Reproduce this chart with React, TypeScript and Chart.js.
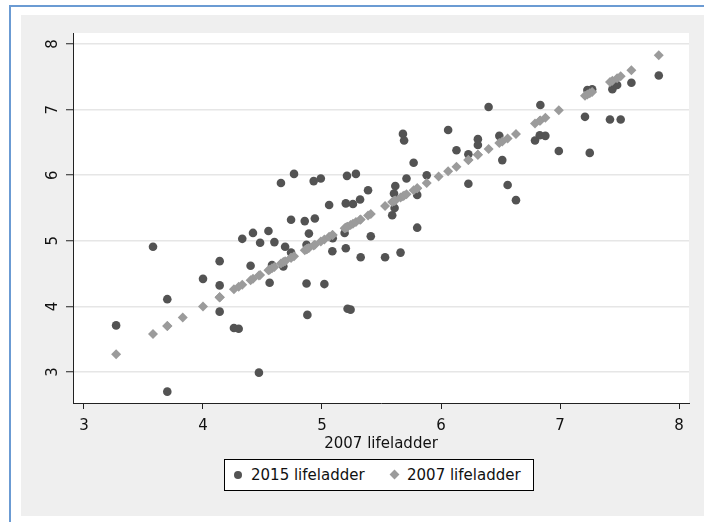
import React, { useEffect, useRef } from "react";
import { Chart, registerables } from "chart.js";

Chart.register(...registerables);

// 2007 life ladder (x) per country
const ladder2007: number[] = [
  3.27, 3.58, 3.7, 3.7, 3.83, 4.0, 4.14, 4.14, 4.14, 4.26, 4.3, 4.33, 4.4, 4.42, 4.47, 4.48,
  4.55, 4.56, 4.58, 4.6, 4.655, 4.675, 4.69, 4.74, 4.74, 4.765, 4.855, 4.87, 4.87, 4.877, 4.89,
  4.93, 4.94, 4.99, 5.02, 5.06, 5.087, 5.09, 5.19, 5.2, 5.2, 5.21, 5.215, 5.24, 5.26, 5.285,
  5.32, 5.325, 5.387, 5.41, 5.53, 5.59, 5.605, 5.61, 5.616, 5.66, 5.68, 5.69, 5.71, 5.77, 5.8,
  5.8, 5.88, 5.98, 6.06, 6.13, 6.23, 6.23, 6.31, 6.31, 6.4, 6.49, 6.515, 6.56, 6.63, 6.79, 6.83,
  6.835, 6.877, 6.99, 7.21, 7.23, 7.25, 7.27, 7.42, 7.44, 7.48, 7.51, 7.6, 7.83,
];

// 2015 life ladder (y) for the same countries (null = not shown)
const ladder2015: (number | null)[] = [
  3.71, 4.91, 4.11, 2.7, null, 4.42, 4.69, 4.32, 3.92, 3.67, 3.66, 5.03, 4.62, 5.12, 2.99, 4.97,
  5.15, 4.36, 4.63, 4.98, 5.88, 4.61, 4.91, 5.32, 4.82, 6.02, 5.3, 4.35, 4.94, 3.87, 5.11,
  5.91, 5.34, 5.95, 4.34, 5.545, 4.84, 5.04, 5.12, 5.57, 4.886, 5.99, 3.965, 3.95, 5.56, 6.02,
  5.63, 4.75, 5.77, 5.07, 4.75, 5.39, 5.72, 5.5, 5.835, 4.82, 6.63, 6.53, 5.95, 6.19, 5.7,
  5.2, 6.0, null, 6.69, 6.38, 6.32, 5.87, 6.55, 6.46, 7.04, 6.6, 6.23, 5.85, 5.62, 6.53, 6.61,
  7.07, 6.6, 6.37, 6.89, 7.3, 6.34, 7.31, 6.85, 7.31, 7.375, 6.85, 7.41, 7.52,
];

const xTickValues = [3, 4, 5, 6, 7, 8];
const yTickValues = [3, 4, 5, 6, 7, 8];
const xAxisTitle = "2007 lifeladder";
const label2015 = "2015 lifeladder";
const label2007 = "2007 lifeladder";

const FONT = "'DejaVu Sans', sans-serif";
const DARK = "#535353";
const LIGHT = "#9b9b9b";
const TEXT = "#111111";

export default function App() {
  const ref = useRef<HTMLCanvasElement>(null);

  useEffect(() => {
    const pts2015 = ladder2007
      .map((x, i) => (ladder2015[i] == null ? null : { x, y: ladder2015[i] as number }))
      .filter((p) => p !== null) as { x: number; y: number }[];
    const pts2007 = ladder2007.map((x) => ({ x, y: x }));

    const plotBg = {
      id: "plotBg",
      beforeDraw(chart: any) {
        const { ctx, chartArea: a } = chart;
        ctx.save();
        ctx.fillStyle = "#ffffff";
        ctx.fillRect(a.left, a.top, a.right - a.left, a.bottom - a.top);
        ctx.restore();
      },
    };

    const yLabels = {
      id: "yLabels",
      afterDraw(chart: any) {
        const { ctx } = chart;
        const s = chart.scales.y;
        ctx.save();
        ctx.font = `15px ${FONT}`;
        ctx.fillStyle = TEXT;
        ctx.textAlign = "center";
        ctx.textBaseline = "alphabetic";
        for (const v of yTickValues) {
          const py = s.getPixelForValue(v);
          ctx.save();
          ctx.translate(36, py);
          ctx.rotate(-Math.PI / 2);
          ctx.fillText(String(v), 0, 0);
          ctx.restore();
        }
        ctx.restore();
      },
    };

    const chart = new Chart(ref.current as HTMLCanvasElement, {
      type: "scatter",
      data: {
        datasets: [
          {
            label: label2015,
            data: pts2015,
            pointStyle: "circle",
            pointRadius: 4.3,
            backgroundColor: DARK,
            borderWidth: 0,
            order: 1,
          },
          {
            label: label2007,
            data: pts2007,
            pointStyle: "rectRot",
            pointRadius: 5,
            backgroundColor: LIGHT,
            borderWidth: 0,
            order: 0,
          },
        ],
      },
      options: {
        animation: false,
        responsive: false,
        events: [],
        layout: { padding: { left: 0, right: 15, top: 18, bottom: 63 } },
        plugins: { legend: { display: false }, tooltip: { enabled: false } },
        scales: {
          x: {
            type: "linear",
            min: 2.9076,
            max: 8.084,
            afterBuildTicks: (s: any) => {
              s.ticks = xTickValues.map((v) => ({ value: v }));
            },
            afterFit: (s: any) => {
              s.height = 50;
            },
            grid: {
              drawOnChartArea: false,
              drawTicks: true,
              tickLength: 6,
              tickColor: "#222",
              tickWidth: 1,
            },
            border: { display: true, color: "#222", width: 1 },
            ticks: {
              font: { family: FONT, size: 15 },
              color: TEXT,
              padding: 8,
              maxRotation: 0,
              autoSkip: false,
            },
            title: {
              display: true,
              text: xAxisTitle,
              font: { family: FONT, size: 15 },
              color: TEXT,
              padding: { top: 0, bottom: 0 },
            },
          },
          y: {
            type: "linear",
            min: 2.527,
            max: 8.168,
            afterBuildTicks: (s: any) => {
              s.ticks = yTickValues.map((v) => ({ value: v }));
            },
            afterFit: (s: any) => {
              s.width = 52;
            },
            grid: {
              color: "#e6e6e6",
              lineWidth: 1.5,
              drawTicks: true,
              tickLength: 7,
              tickColor: "#222",
              tickWidth: 1,
            },
            border: { display: true, color: "#222", width: 1 },
            ticks: { display: false },
          },
        },
      } as any,
      plugins: [plotBg, yLabels],
    });
    return () => chart.destroy();
  }, []);

  const legendText: React.CSSProperties = {
    position: "absolute",
    top: 0,
    lineHeight: "30px",
    fontFamily: FONT,
    fontSize: 15,
    color: TEXT,
    whiteSpace: "nowrap",
  };

  return (
    <div
      style={{
        position: "fixed",
        left: 0,
        top: 0,
        width: 704,
        height: 522,
        overflow: "hidden",
        background: "#ffffff",
      }}
    >
      <div
        style={{
          position: "absolute",
          left: 9,
          top: 5,
          width: 800,
          height: 600,
          borderTop: "2px solid #6b9bd3",
          borderLeft: "2px solid #6b9bd3",
        }}
      />
      <div
        style={{
          position: "absolute",
          left: 21,
          top: 15,
          width: 683,
          height: 501,
          background: "#efefef",
        }}
      >
        <canvas ref={ref} width={683} height={501} style={{ display: "block" }} />
      </div>
      <div
        style={{
          position: "absolute",
          left: 224,
          top: 459,
          width: 310,
          height: 32,
          boxSizing: "border-box",
          border: "1px solid #000",
          background: "#fff",
        }}
      >
        <div
          style={{
            position: "absolute",
            left: 9,
            top: 11,
            width: 8,
            height: 8,
            borderRadius: "50%",
            background: DARK,
          }}
        />
        <div style={{ ...legendText, left: 26 }}>{label2015}</div>
        <div
          style={{
            position: "absolute",
            left: 166,
            top: 11,
            width: 7,
            height: 7,
            transform: "rotate(45deg)",
            background: LIGHT,
          }}
        />
        <div style={{ ...legendText, left: 182 }}>{label2007}</div>
      </div>
    </div>
  );
}
